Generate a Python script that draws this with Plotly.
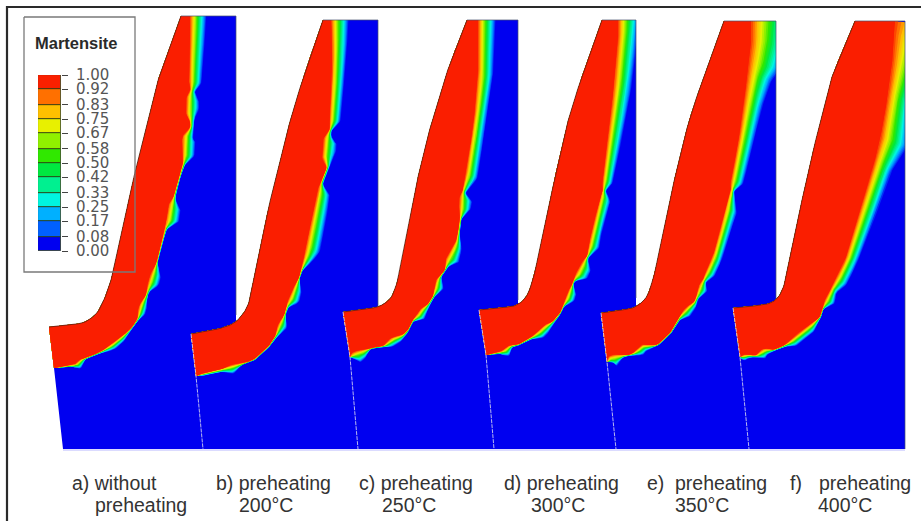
import numpy as np
import plotly.graph_objects as go

# Colour scale of the contour legend
LEVELS = [0.00, 0.08, 0.17, 0.25, 0.33, 0.42, 0.50, 0.58, 0.67, 0.75, 0.83, 0.92, 1.00]
LEVEL_LABELS = ["0.00", "0.08", "0.17", "0.25", "0.33", "0.42", "0.50", "0.58", "0.67", "0.75", "0.83", "0.92", "1.00"]
LEVEL_COLORS = ["#0000f0", "#0060ff", "#00b0ff", "#00f5e0", "#00f090", "#00e840", "#30e800",
                "#90f000", "#e8f000", "#ffc000", "#ff7000", "#fa2000"]
RED = "#fa1e00"
BLUE = "#0000f0"

# Each panel: outer contour, lower-left corners, top/right bound, hardened-zone edge (x, y, transition width)
OUT_A = [(181, 16), (160, 73), (137, 163), (112, 277), (107, 293), (98, 313), (85, 323), (49, 327)]
OUT_B = [(323, 20), (308, 63), (293, 110), (280, 160), (268, 210), (260, 250), (257, 265), (248, 307), (237, 322), (223, 328), (191, 334)]
OUT_C = [(467, 20), (450, 63), (433, 117), (420, 167), (404, 250), (398, 280), (392, 298), (380, 307), (343, 312)]
OUT_D = [(602, 20), (585, 67), (570, 113), (557, 167), (540, 250), (533, 280), (527, 297), (517, 306), (479, 310)]
OUT_E = [(724, 21), (707, 67), (690, 117), (677, 167), (660, 250), (653, 280), (647, 298), (635, 308), (601, 313)]
OUT_F = [(855, 21), (833, 73), (815, 143), (802, 200), (790, 260), (783, 290), (775, 302), (763, 305), (733, 308)]

CORNER_A = [(54, 368), (63, 449)]
CORNER_B = [(196, 376), (203, 449)]
CORNER_C = [(350, 357), (358, 449)]
CORNER_D = [(486, 355), (494, 449)]
CORNER_E = [(607, 362), (616, 449)]
CORNER_F = [(740, 357), (749, 449)]

RIGHT_A = 236
RIGHT_B = 378
RIGHT_C = 518
RIGHT_D = 636
RIGHT_E = 776
RIGHT_F = 905

EDGE_A = [(190, 16, 13), (190, 40, 12), (189, 60, 11), (189, 86, 10), (191, 90, 2), (186, 97, 11), (186, 116, 10),
          (190, 121, 3), (190, 128, 3), (182, 136, 11), (182, 158, 10), (183, 163, 2), (178, 180, 1), (173, 198, 2),
          (168, 205, 11), (166, 222, 10), (165, 227, 2), (160, 247, 1), (156, 264, 1), (151, 272, 9), (147, 285, 9),
          (147, 290, 2), (145, 297, 2), (139, 305, 7), (137, 315, 6), (138, 318, 1), (132, 327, 1), (126, 333, 2),
          (120, 337, 5), (110, 345, 5), (100, 352, 1), (85, 358, 1), (81, 359, 3), (78, 360, 7), (76, 364, 5), (72, 365, 1), (54, 368, 0)]
EDGE_B = [(331, 20, 14), (332, 50, 12), (332, 77, 10), (329, 123, 9), (330, 128, 2), (328, 133, 2), (323, 138, 12),
          (322, 160, 10), (327, 167, 2), (320, 184, 2), (317, 190, 11), (311, 220, 12), (305, 250, 12), (303, 262, 6),
          (301, 270, 1), (298, 280, 1), (293, 288, 8), (288, 300, 9), (286, 306, 2), (284, 316, 1), (279, 322, 8),
          (276, 330, 6), (275, 337, 1), (267, 348, 1), (253, 360, 1), (240, 364, 1), (234, 364, 7), (228, 366, 7),
          (222, 369, 2), (200, 374, 2), (196, 376, 0)]
EDGE_C = [(478, 20, 14), (478, 77, 12), (473, 127, 10), (465, 177, 10), (462, 193, 2), (459, 197, 11), (459, 212, 9),
          (460, 218, 1), (457, 237, 2), (455, 243, 6), (451, 250, 9), (445, 260, 11), (445, 266, 2), (445, 270, 1),
          (440, 276, 1), (436, 279, 6), (434, 288, 8), (433, 295, 2), (432, 298, 1), (427, 305, 2), (420, 309, 7),
          (416, 316, 7), (412, 320, 1), (408, 330, 1), (402, 335, 3), (397, 336, 6), (392, 337, 7), (386, 342, 6),
          (384, 346, 1), (373, 347, 1), (368, 349, 1), (364, 349, 8), (355, 351, 10), (351, 353, 10), (350, 357, 0)]
EDGE_D = [(618, 20, 17), (618, 43, 15), (613, 93, 14), (607, 143, 11), (602, 185, 8), (603, 190, 1), (600, 197, 9),
          (592, 230, 8), (588, 247, 9), (587, 257, 1), (585, 258, 2), (581, 263, 10), (575, 275, 10), (573, 280, 1),
          (571, 287, 2), (568, 290, 8), (565, 300, 7), (563, 305, 1), (560, 313, 1), (552, 322, 2), (544, 325, 7),
          (537, 332, 7), (530, 338, 1), (517, 345, 1), (510, 345, 2), (507, 346, 7), (503, 350, 7), (500, 352, 1), (486, 355, 0)]
EDGE_E = [(751, 21, 33), (751, 43, 30), (748, 67, 26), (747, 77, 20), (745, 93, 17), (743, 110, 14), (738, 143, 12),
          (730, 185, 10), (731, 190, 2), (725, 210, 10), (720, 230, 8), (716, 245, 8), (712, 258, 8), (705, 273, 8),
          (702, 282, 2), (699, 284, 8), (697, 292, 7), (696, 298, 1), (693, 303, 4), (687, 306, 7), (681, 313, 7),
          (678, 318, 2), (670, 333, 1), (657, 345, 1), (648, 345, 4), (642, 344, 7), (637, 349, 7), (632, 354, 1),
          (627, 355, 1), (622, 355, 2), (616, 354, 10), (608, 356, 10), (607, 362, 0)]
EDGE_F = [(895, 21, 55), (893, 40, 38), (892, 67, 27), (887, 100, 20), (880, 140, 23), (873, 167, 15), (863, 200, 14),
          (845, 260, 10), (835, 280, 10), (830, 290, 5), (827, 295, 8), (824, 302, 8), (822, 308, 1), (820, 317, 1),
          (816, 320, 3), (808, 326, 7), (798, 333, 7), (790, 340, 7), (785, 345, 1), (773, 350, 1), (770, 349, 3),
          (764, 348, 7), (759, 351, 8), (756, 356, 1), (748, 354, 3), (742, 355, 6), (740, 357, 0)]

TOPS = [16, 20, 20, 20, 21, 21]
PANELS = [(OUT_A, CORNER_A, RIGHT_A, EDGE_A), (OUT_B, CORNER_B, RIGHT_B, EDGE_B), (OUT_C, CORNER_C, RIGHT_C, EDGE_C),
          (OUT_D, CORNER_D, RIGHT_D, EDGE_D), (OUT_E, CORNER_E, RIGHT_E, EDGE_E), (OUT_F, CORNER_F, RIGHT_F, EDGE_F)]
WIDTH_GAIN = 1.3

# Captions
CAP_FIRST = ["a) without", "b) preheating", "c) preheating", "d) preheating", "e)", "f)"]
CAP_FIRST_X = [70, 214, 357, 502, 645, 788]
CAP_EXTRA = ["preheating", "preheating"]
CAP_EXTRA_X = [673, 817]
CAP_SECOND = ["preheating", "200°C", "250°C", "300°C", "350°C", "400°C"]
CAP_SECOND_X = [93, 237, 380, 529, 673, 816]
CAP_Y1, CAP_Y2 = 483, 505


def hex_rgb(h):
    return np.array([int(h[i:i + 2], 16) for i in (1, 3, 5)], dtype=float)


def smooth_path(rows, win):
    """Resample a hand-read polyline at 1 px and soften it, keeping both ends."""
    a = np.array(rows, dtype=float)
    s = np.concatenate([[0], np.cumsum(np.hypot(*np.diff(a[:, :2], axis=0).T))])
    t = np.arange(0, s[-1], 1.0)
    t = np.append(t, s[-1])
    res = np.column_stack([np.interp(t, s, a[:, j]) for j in range(a.shape[1])])
    out = res.copy()
    for i in range(len(res)):
        r = min(win, i, len(res) - 1 - i)
        out[i] = res[i - r:i + r + 1].mean(axis=0)
    return out


def offset_edge(e, frac, right, top):
    n = len(e)
    out = []
    for i in range(n):
        a, b = e[max(i - 7, 0)], e[min(i + 7, n - 1)]
        t = b[:2] - a[:2]
        t = t / max(np.hypot(*t), 1e-6)
        nx, ny = t[1], -t[0]
        w = e[i, 2] * WIDTH_GAIN
        x = min(e[i, 0] + nx * w * frac, right)
        y = max(e[i, 1] + ny * w * frac, top)
        out.append((x, y))
    return out[::2] + [out[-1]]


def poly(fig, pts, color):
    xs = [round(float(p[0]), 1) for p in pts] + [round(float(pts[0][0]), 1)]
    ys = [round(float(p[1]), 1) for p in pts] + [round(float(pts[0][1]), 1)]
    fig.add_trace(go.Scatter(x=xs, y=ys, mode="lines", fill="toself", fillcolor=color,
                             line=dict(width=0, color=color), hoverinfo="skip", showlegend=False))


fig = go.Figure()

band_rgb = [hex_rgb(c) for c in LEVEL_COLORS]
steps = []
for i in range(len(band_rgb) - 1):
    steps.append((i / 11.0, band_rgb[i]))
    steps.append(((i + 0.5) / 11.0, (band_rgb[i] + band_rgb[i + 1]) / 2))
steps.append((1.0, band_rgb[-1]))

for (out, corner, right, edge), top in zip(PANELS, TOPS):
    so = [tuple(p) for p in smooth_path(out, 7)[::2]]
    so.append(tuple(out[-1]))
    se = smooth_path(edge, 3)
    blue = so + [corner[0], corner[1], (right, corner[1][1]), (right, top)]
    poly(fig, blue, BLUE)
    for frac, rgb in steps[1:]:
        off = offset_edge(se, 1 - frac, right, top)
        color = "rgb(%d,%d,%d)" % tuple(rgb)
        poly(fig, so + [corner[0]] + off[::-1], color)
    poly(fig, so + [corner[0]] + offset_edge(se, 0, right, top)[::-1], RED)
    xs = [p[0] for p in so]
    ys = [p[1] for p in so]
    fig.add_trace(go.Scatter(x=xs, y=ys, mode="lines", line=dict(color="rgba(90,30,20,0.8)", width=1),
                             hoverinfo="skip", showlegend=False))
    fig.add_trace(go.Scatter(x=[out[0][0], right, right], y=[top, top, 449 if right == RIGHT_F else out[-1][1] - 12],
                             mode="lines", line=dict(color="rgba(70,80,110,0.7)", width=1),
                             hoverinfo="skip", showlegend=False))
    if right != RIGHT_A:
        fig.add_trace(go.Scatter(x=[out[-1][0], corner[0][0], corner[1][0]], y=[out[-1][1], corner[0][1], corner[1][1]],
                                 mode="lines", line=dict(color="rgba(215,215,240,0.85)", width=1, dash="4px,1px"),
                                 hoverinfo="skip", showlegend=False))

fig.add_trace(go.Scatter(x=[CORNER_A[1][0], RIGHT_F], y=[450, 450], mode="lines",
                         line=dict(color="#b8b8ff", width=1), hoverinfo="skip", showlegend=False))
fig.add_trace(go.Scatter(x=[7, 7, 921], y=[521, 7, 7], mode="lines", line=dict(color="#2a2a2a", width=2.2),
                         hoverinfo="skip", showlegend=False))
fig.add_trace(go.Scatter(x=[24, 135, 135, 24, 24], y=[17, 17, 272, 272, 17], mode="lines",
                         line=dict(color="#7a7a7a", width=1.3), hoverinfo="skip", showlegend=False))

fig.add_trace(go.Bar(x=[0] * 12, y=np.diff(LEVELS), base=LEVELS[:-1], width=1, xaxis="x2", yaxis="y2",
                     marker=dict(color=LEVEL_COLORS, line=dict(color="#2a3a10", width=0.8)),
                     hoverinfo="skip", showlegend=False))

annos = [dict(x=76, y=43, text="<b>Martensite</b>", showarrow=False, xanchor="center", yanchor="middle",
              font=dict(family="Liberation Sans", size=16.5, color="#2a2a2a"))]
for txt, x in list(zip(CAP_FIRST, CAP_FIRST_X)) + list(zip(CAP_EXTRA, CAP_EXTRA_X)):
    annos.append(dict(x=x, y=CAP_Y1, text=txt, showarrow=False, xanchor="left", yanchor="middle",
                      font=dict(family="Liberation Sans", size=19.5, color="#333333")))
for txt, x in zip(CAP_SECOND, CAP_SECOND_X):
    annos.append(dict(x=x, y=CAP_Y2, text=txt, showarrow=False, xanchor="left", yanchor="middle",
                      font=dict(family="Liberation Sans", size=19.5, color="#333333")))
for a in annos:
    a["xref"] = "x"
    a["yref"] = "y"

W, H = 921, 521
fig.update_layout(
    width=W, height=H, margin=dict(l=0, r=0, t=0, b=0, autoexpand=False), paper_bgcolor="white", plot_bgcolor="white",
    annotations=annos, bargap=0,
    xaxis=dict(range=[0, W], visible=False, domain=[0, 1], fixedrange=True, automargin=False),
    yaxis=dict(range=[H, 0], visible=False, domain=[0, 1], fixedrange=True, automargin=False),
    xaxis2=dict(domain=[38 / W, 61 / W], range=[-0.5, 0.5], visible=False, anchor="y2", fixedrange=True, automargin=False),
    yaxis2=dict(domain=[1 - 251 / H, 1 - 75 / H], range=[0, 1], anchor="x2", side="right", fixedrange=True, automargin=False,
                tickmode="array", tickvals=LEVELS, ticktext=LEVEL_LABELS, ticks="outside", ticklen=6,
                tickcolor="#444444", tickwidth=1, showgrid=False, zeroline=False, showline=False,
                ticklabelstandoff=5, tickfont=dict(family="DejaVu Sans", size=15, color="#555555")),
)

fig.write_html("out.html", config={"displayModeBar": False},
               post_script="document.body.style.margin='0';document.body.style.overflow='hidden';")
